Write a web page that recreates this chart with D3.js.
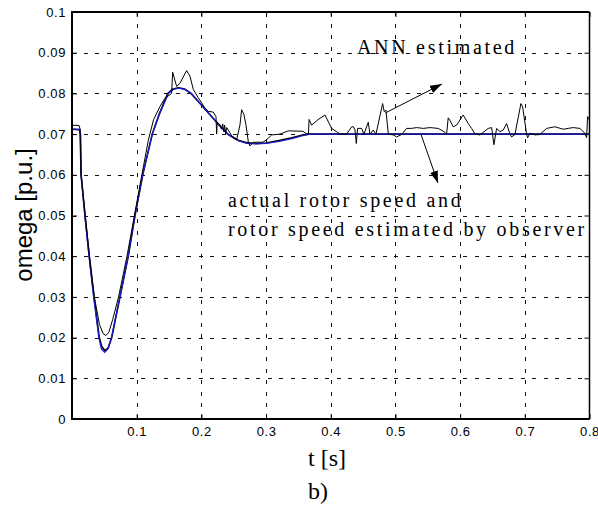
<!DOCTYPE html>
<html>
<head>
<meta charset="utf-8">
<script src="https://cdn.jsdelivr.net/npm/d3@7"></script>
<style>
  html, body { margin: 0; padding: 0; background: #fff; }
  svg { display: block; }
</style>
</head>
<body>
<svg id="chart" width="598" height="508"></svg>
<script>
// ---- data ----
const xTicks = [0.1, 0.2, 0.3, 0.4, 0.5, 0.6, 0.7, 0.8];
const yTicks = [0, 0.01, 0.02, 0.03, 0.04, 0.05, 0.06, 0.07, 0.08, 0.09, 0.1];
const yTickLabels = ["0", "0.01", "0.02", "0.03", "0.04", "0.05", "0.06", "0.07", "0.08", "0.09", "0.1"];

// actual rotor speed
const actualT = [0, 0.0115, 0.0128, 0.014, 0.0201, 0.0267, 0.034, 0.0422, 0.046, 0.051, 0.056, 0.0614, 0.0742, 0.087, 0.0974, 0.1093, 0.124, 0.135, 0.148, 0.156, 0.165, 0.174, 0.184, 0.197, 0.212, 0.227, 0.241, 0.257, 0.27, 0.285, 0.30, 0.32, 0.34, 0.355, 0.365, 0.8];
const actualV = [0.0712, 0.0711, 0.0700, 0.060, 0.050, 0.040, 0.030, 0.020, 0.0178, 0.0168, 0.0175, 0.020, 0.030, 0.040, 0.050, 0.060, 0.070, 0.075, 0.080, 0.0811, 0.0814, 0.0811, 0.080, 0.0777, 0.075, 0.0723, 0.070, 0.0685, 0.0679, 0.0677, 0.0678, 0.0684, 0.0691, 0.0697, 0.070, 0.070];

// rotor speed estimated by observer
const observerT = [0, 0.012, 0.0132, 0.0142, 0.0199, 0.0263, 0.0335, 0.0415, 0.0455, 0.0505, 0.0555, 0.061, 0.074, 0.0868, 0.0972, 0.1092, 0.1242, 0.1355, 0.149, 0.157, 0.165, 0.174, 0.185, 0.198, 0.213, 0.228, 0.242, 0.258, 0.27, 0.285, 0.30, 0.32, 0.34, 0.358, 0.368, 0.8];
const observerV = [0.0712, 0.0711, 0.0700, 0.060, 0.050, 0.040, 0.030, 0.020, 0.0172, 0.0164, 0.0172, 0.020, 0.030, 0.040, 0.050, 0.060, 0.070, 0.075, 0.080, 0.0810, 0.0813, 0.0810, 0.0799, 0.0775, 0.0748, 0.0721, 0.0698, 0.0683, 0.0677, 0.0676, 0.0677, 0.0682, 0.0689, 0.0697, 0.070, 0.070];

// ANN estimated
const annT = [0, 0.011, 0.0125, 0.014, 0.0205, 0.027, 0.0345, 0.0425, 0.048, 0.0525, 0.057, 0.063, 0.072, 0.085, 0.0965, 0.108, 0.118, 0.126, 0.136, 0.1437, 0.1515, 0.154, 0.1556, 0.1618, 0.1669, 0.1772, 0.1824, 0.1875, 0.1953, 0.2056, 0.2107, 0.2184, 0.2226, 0.2236, 0.2245, 0.2287, 0.231, 0.233, 0.2345, 0.236, 0.2375, 0.239, 0.2493, 0.2545, 0.2597, 0.2622, 0.2658, 0.2689, 0.2725, 0.2751, 0.2802, 0.295, 0.3009, 0.3086, 0.3215, 0.3344, 0.357, 0.362, 0.3655, 0.3665, 0.3704, 0.380, 0.391, 0.4014, 0.409, 0.4142, 0.4245, 0.4323, 0.435, 0.4375, 0.4395, 0.4415, 0.4477, 0.4513, 0.458, 0.4606, 0.4657, 0.4699, 0.4802, 0.4827, 0.4853, 0.489, 0.4966, 0.5018, 0.5096, 0.5173, 0.525, 0.5328, 0.543, 0.5533, 0.5662, 0.575, 0.5791, 0.5816, 0.5842, 0.5893, 0.5945, 0.6048, 0.6125, 0.6178, 0.6229, 0.6306, 0.6435, 0.6487, 0.6522, 0.6564, 0.6615, 0.6667, 0.6718, 0.677, 0.6796, 0.6847, 0.694, 0.6966, 0.7028, 0.7043, 0.7079, 0.7156, 0.7233, 0.7337, 0.7465, 0.7594, 0.7671, 0.7748, 0.7852, 0.7929, 0.7955, 0.7971, 0.8];
const annV = [0.0722, 0.0721, 0.0712, 0.060, 0.050, 0.040, 0.030, 0.0232, 0.0210, 0.0205, 0.0213, 0.0245, 0.030, 0.040, 0.050, 0.060, 0.0685, 0.0735, 0.0768, 0.0788, 0.0797, 0.0800, 0.0852, 0.0817, 0.0825, 0.0856, 0.0842, 0.0810, 0.0789, 0.0764, 0.0756, 0.0754, 0.0743, 0.0700, 0.0729, 0.0723, 0.0712, 0.0725, 0.0706, 0.0722, 0.0700, 0.0716, 0.0690, 0.0686, 0.0723, 0.0760, 0.0748, 0.0723, 0.0682, 0.0671, 0.0680, 0.0680, 0.0686, 0.0698, 0.0700, 0.0708, 0.0707, 0.0701, 0.0700, 0.0736, 0.0722, 0.0735, 0.0747, 0.0714, 0.0706, 0.0700, 0.0700, 0.0718, 0.0718, 0.0710, 0.0677, 0.0714, 0.0714, 0.0700, 0.0729, 0.0700, 0.0710, 0.0700, 0.0775, 0.0755, 0.0759, 0.0700, 0.0698, 0.0693, 0.0699, 0.0714, 0.0714, 0.0716, 0.0714, 0.0716, 0.0714, 0.0706, 0.0700, 0.0740, 0.0734, 0.0718, 0.0722, 0.0747, 0.0726, 0.0714, 0.0700, 0.0698, 0.0714, 0.0716, 0.0674, 0.0714, 0.0706, 0.0710, 0.0726, 0.0700, 0.0693, 0.0699, 0.0775, 0.0767, 0.0700, 0.0691, 0.0702, 0.0698, 0.0699, 0.0714, 0.0718, 0.0712, 0.0714, 0.0716, 0.0714, 0.0702, 0.0691, 0.0743, 0.0735];

// annotations (data coordinates)
const annLabel = { text: "ANN estimated", t: 0.4405, v: 0.0897 };
const obsLabel1 = { text: "actual rotor speed and", t: 0.2411, v: 0.0522 };
const obsLabel2 = { text: "rotor speed estimated by observer", t: 0.2411, v: 0.0450 };
const annArrow = { t0: 0.4845, v0: 0.0752, t1: 0.5719, v1: 0.0823 };
const obsArrow = { t0: 0.5394, v0: 0.0700, t1: 0.5657, v1: 0.0580 };

// ---- layout ----
const mLeft = 72, mRight = 589.5, mTop = 12, mBottom = 419;

const svg = d3.select("#chart");
const x = d3.scaleLinear().domain([0, 0.8]).range([mLeft, mRight]);
const y = d3.scaleLinear().domain([0, 0.1]).range([mBottom, mTop]);

// grid
const grid = svg.append("g").attr("stroke", "#111").attr("stroke-width", 1)
  .attr("stroke-dasharray", "4,7.5").attr("shape-rendering", "crispEdges");
grid.selectAll("line.gx").data(xTicks.filter(d => d < 0.8)).join("line")
  .attr("x1", d => Math.round(x(d)) + 0.5).attr("x2", d => Math.round(x(d)) + 0.5)
  .attr("y1", mTop).attr("y2", mBottom);
grid.selectAll("line.gy").data(yTicks.filter(d => d > 0 && d < 0.1)).join("line")
  .attr("y1", d => Math.round(y(d)) + 0.5).attr("y2", d => Math.round(y(d)) + 0.5)
  .attr("x1", mLeft).attr("x2", mRight);

// axes (inward ticks)
const fontTick = "'Liberation Sans', Arial, sans-serif";
const yAxis = svg.append("g").attr("transform", `translate(${mLeft},0)`)
  .call(d3.axisLeft(y).tickValues(yTicks).tickFormat((d, i) => yTickLabels[i])
    .tickSizeInner(-5).tickSizeOuter(0).tickPadding(6));
const xAxis = svg.append("g").attr("transform", `translate(0,${mBottom})`)
  .call(d3.axisBottom(x).tickValues(xTicks).tickFormat(d3.format(".1f"))
    .tickSizeInner(-5).tickSizeOuter(0).tickPadding(8));
const yAxisR = svg.append("g").attr("transform", `translate(${mRight},0)`)
  .call(d3.axisRight(y).tickValues(yTicks).tickFormat("").tickSizeInner(-5).tickSizeOuter(0));
const xAxisT = svg.append("g").attr("transform", `translate(0,${mTop})`)
  .call(d3.axisTop(x).tickValues(xTicks).tickFormat("").tickSizeInner(-5).tickSizeOuter(0));
[yAxis, xAxis, yAxisR, xAxisT].forEach(g => {
  g.select(".domain").remove();
  g.selectAll(".tick line").attr("stroke", "#000").attr("stroke-width", 1);
  g.selectAll("text").attr("font-family", fontTick).attr("font-size", 13)
    .attr("letter-spacing", "0.6").attr("fill", "#000");
});

// series
const line = (ts, vs) => d3.line().x((d, i) => x(ts[i])).y((d, i) => y(vs[i]))(ts);
svg.append("path").attr("d", line(actualT, actualV))
  .attr("fill", "none").attr("stroke", "#000").attr("stroke-width", 1.6);
svg.append("path").attr("d", line(observerT, observerV))
  .attr("fill", "none").attr("stroke", "#1a1ad0").attr("stroke-width", 1.3);
svg.append("path").attr("d", line(annT, annV))
  .attr("fill", "none").attr("stroke", "#000").attr("stroke-width", 1)
  .attr("stroke-linejoin", "round");

// box
const box = svg.append("g").attr("fill", "none").attr("stroke", "#000");
box.append("line").attr("x1", mLeft).attr("x2", mLeft).attr("y1", mTop - 1).attr("y2", mBottom + 1).attr("stroke-width", 2);
box.append("line").attr("x1", mLeft).attr("x2", mRight).attr("y1", mBottom).attr("y2", mBottom).attr("stroke-width", 2);
box.append("line").attr("x1", mLeft).attr("x2", mRight).attr("y1", mTop).attr("y2", mTop).attr("stroke-width", 2);
box.append("line").attr("x1", mRight).attr("x2", mRight).attr("y1", mTop).attr("y2", mBottom).attr("stroke-width", 1.5);

// annotations
const serif = "'Liberation Serif', 'Times New Roman', serif";
[annLabel, obsLabel1, obsLabel2].forEach(l => {
  svg.append("text").attr("x", x(l.t)).attr("y", y(l.v)).text(l.text)
    .attr("font-family", serif).attr("font-size", 20).attr("letter-spacing", "2.7")
    .attr("fill", "#000");
});

svg.append("defs").append("marker").attr("id", "ah")
  .attr("markerUnits", "userSpaceOnUse").attr("markerWidth", 13).attr("markerHeight", 9)
  .attr("refX", 12).attr("refY", 4).attr("orient", "auto")
  .append("path").attr("d", "M0,0 L12,4 L0,8 Z").attr("fill", "#000");
[annArrow, obsArrow].forEach(a => {
  svg.append("line").attr("x1", x(a.t0)).attr("y1", y(a.v0)).attr("x2", x(a.t1)).attr("y2", y(a.v1))
    .attr("stroke", "#000").attr("stroke-width", 1).attr("marker-end", "url(#ah)");
});

// axis titles
svg.append("text").attr("x", 308).attr("y", 466)
  .text("t [s]").attr("font-family", serif).attr("font-size", 24).attr("fill", "#000");
svg.append("text").attr("x", 308).attr("y", 499)
  .text("b)").attr("font-family", serif).attr("font-size", 24).attr("fill", "#000");
svg.append("text").attr("transform", "translate(32,215) rotate(-90)")
  .attr("text-anchor", "middle").text("omega [p.u.]")
  .attr("font-family", fontTick).attr("font-size", 24).attr("fill", "#000");
</script>
</body>
</html>
